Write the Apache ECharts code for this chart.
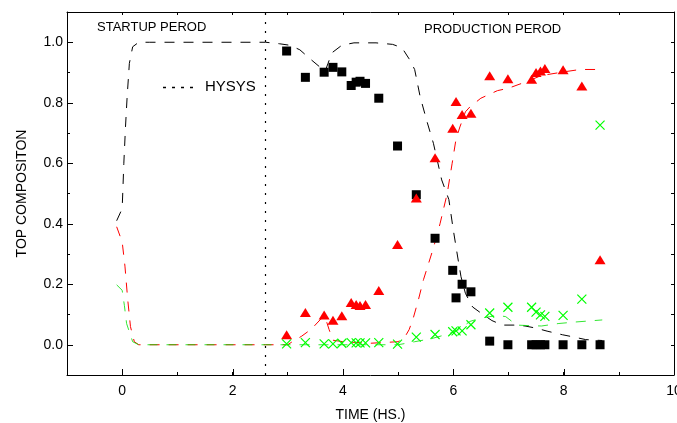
<!DOCTYPE html>
<html><head><meta charset="utf-8">
<script src="https://cdn.jsdelivr.net/npm/echarts@6/dist/echarts.min.js"></script>
<style>html,body{margin:0;padding:0;background:#fff;overflow:hidden}#c{width:677px;height:423px}</style>
</head><body><div id="c"></div>
<script>
// ---- experimental samples (time in hours) ----
const sampleTime   = [2.98, 3.32, 3.66, 3.82, 3.98, 4.15, 4.24, 4.31, 4.41, 4.65, 4.99, 5.33, 5.67, 5.99, 6.05, 6.16, 6.32, 6.66, 6.99, 7.42, 7.50, 7.58, 7.66, 7.99, 8.33, 8.66];
const expSquares   = [0.971, 0.884, 0.901, 0.917, 0.902, 0.857, 0.868, 0.871, 0.864, 0.815, 0.657, 0.496, 0.352, 0.246, 0.155, 0.200, 0.175, 0.012, 0, 0, 0, 0, 0, 0, 0, 0];
const expTriangles = [0.033, 0.107, 0.098, 0.081, 0.096, 0.140, 0.133, 0.130, 0.133, 0.179, 0.331, 0.485, 0.618, 0.716, 0.804, 0.761, 0.765, 0.889, 0.879, 0.878, 0.900, 0.905, 0.913, 0.909, 0.855, 0.281];
const expCrosses   = [0.003, 0.007, 0.003, 0.003, 0.005, 0.007, 0.006, 0.006, 0.006, 0.007, 0.002, 0.025, 0.034, 0.043, 0.046, 0.046, 0.066, 0.105, 0.124, 0.124, 0.108, 0.099, 0.094, 0.097, 0.151, 0.726];

// ---- HYSYS simulation curves ----
const hysysBlackTime = [-0.1, 0, 0.03, 0.06, 0.09, 0.13, 0.19, 0.3, 0.5, 2.6, 2.85, 3.04, 3.22, 3.4, 3.57, 3.68, 3.73, 3.8, 3.98, 4.2, 4.6, 4.9, 5.07, 5.2, 5.3, 5.4, 5.52, 5.64, 5.79, 5.92, 6.0, 6.08, 6.14, 6.22, 6.35, 6.5, 6.7, 6.89, 7.1, 7.3, 7.5, 7.7, 7.98, 8.2, 8.4, 8.7];
const hysysBlack     = [0.41, 0.45, 0.60, 0.72, 0.82, 0.93, 0.985, 1.0, 1.0, 1.0, 0.995, 0.99, 0.975, 0.946, 0.92, 0.905, 0.93, 0.965, 0.99, 0.998, 0.998, 0.993, 0.982, 0.945, 0.91, 0.82, 0.74, 0.666, 0.545, 0.48, 0.38, 0.29, 0.225, 0.17, 0.125, 0.105, 0.08, 0.065, 0.065, 0.062, 0.055, 0.045, 0.033, 0.025, 0.017, 0.014];
const hysysRedTime   = [-0.1, 0, 0.05, 0.1, 0.15, 0.22, 0.3, 2.6, 3.0, 3.1, 3.25, 3.43, 3.6, 3.68, 3.75, 3.82, 4.0, 4.5, 5.0, 5.13, 5.2, 5.27, 5.37, 5.46, 5.64, 5.76, 5.89, 5.98, 6.05, 6.12, 6.22, 6.3, 6.5, 6.8, 7.0, 7.3, 7.6, 8.0, 8.3, 8.6];
const hysysRed       = [0.39, 0.34, 0.26, 0.15, 0.06, 0.01, 0, 0, 0, 0.012, 0.028, 0.052, 0.085, 0.09, 0.05, 0.015, 0.01, 0.005, 0.01, 0.028, 0.05, 0.085, 0.15, 0.215, 0.32, 0.40, 0.50, 0.60, 0.68, 0.72, 0.77, 0.786, 0.815, 0.84, 0.848, 0.868, 0.89, 0.902, 0.91, 0.91];
const hysysGreenTime = [-0.1, 0, 0.04, 0.08, 0.19, 0.3, 2.6, 5.0, 5.3, 5.6, 5.9, 6.1, 6.3, 6.5, 6.8, 6.95, 7.15, 7.4, 7.6, 7.9, 8.2, 8.7];
const hysysGreen     = [0.198, 0.18, 0.13, 0.07, 0.01, 0, 0, 0, 0.01, 0.02, 0.035, 0.05, 0.077, 0.088, 0.097, 0.093, 0.065, 0.063, 0.062, 0.07, 0.075, 0.082];

// ---- axes ----
const periodBoundary = 2.6;
const xMajorTicks = [0, 2, 4, 6, 8, 10];
const yMajorTicks = [0, 0.2, 0.4, 0.6, 0.8, 1.0];

const FONT = "'Liberation Sans', Arial, sans-serif";
const zip = (t, v) => t.map((x, i) => [x, v[i]]);

const chart = echarts.init(document.getElementById('c'), null, {renderer: 'canvas'});
const axisLine = {show: true, onZero: false, lineStyle: {color: '#000', width: 1}};

function majorTick(dir) {
  return function (params, api) {
    const p = api.coord([api.value(0), api.value(1)]);
    if (dir === 'x') {
      const x = Math.round(p[0]) + 0.5;
      return {type: 'line', shape: {x1: x, y1: p[1], x2: x, y2: p[1] - 6}, style: {stroke: '#000', lineWidth: 1}};
    }
    const y = Math.round(p[1]) + 0.5;
    return {type: 'line', shape: {x1: p[0], y1: y, x2: p[0] + 6, y2: y}, style: {stroke: '#000', lineWidth: 1}};
  };
}

chart.setOption({
  animation: false,
  backgroundColor: '#fff',
  grid: {left: 67, right: 3, top: 12, bottom: 48, containLabel: false, outerBoundsMode: 'none'},
  xAxis: [{
    type: 'value', min: -1, max: 10, interval: 1, position: 'bottom',
    axisLine, splitLine: {show: false},
    axisTick: {show: true, inside: true, length: 3, lineStyle: {color: '#000'}},
    axisLabel: {color: '#000', fontFamily: FONT, fontSize: 14, margin: 9,
      formatter: v => (v >= 0 && Math.round(v) % 2 === 0) ? String(Math.round(v)) : ''},
    name: 'TIME (HS.)', nameLocation: 'middle', nameGap: 33,
    nameTextStyle: {color: '#000', fontFamily: FONT, fontSize: 14}
  }, {
    type: 'value', min: -1, max: 10, interval: 1, position: 'top',
    axisLine, splitLine: {show: false},
    axisTick: {show: true, inside: true, length: 3, lineStyle: {color: '#000'}},
    axisLabel: {show: false}
  }],
  yAxis: [{
    type: 'value', min: -0.1, max: 1.1, interval: 0.1, position: 'left',
    axisLine, splitLine: {show: false},
    axisTick: {show: true, inside: true, length: 3, lineStyle: {color: '#000'}},
    axisLabel: {color: '#000', fontFamily: FONT, fontSize: 14, margin: 4,
      formatter: v => { const k = Math.round(v * 10); return (k >= 0 && k <= 10 && k % 2 === 0) ? Math.abs(v).toFixed(1) : ''; }},
    name: 'TOP COMPOSITON', nameLocation: 'middle', nameGap: 38,
    nameTextStyle: {color: '#000', fontFamily: FONT, fontSize: 14}
  }, {
    type: 'value', min: -0.1, max: 1.1, interval: 0.1, position: 'right',
    axisLine, splitLine: {show: false},
    axisTick: {show: true, inside: true, length: 3, lineStyle: {color: '#000'}},
    axisLabel: {show: false}
  }],
  graphic: [
    {type: 'text', left: 97, top: 21, style: {text: 'STARTUP PEROD', fill: '#000', font: '13px ' + FONT}},
    {type: 'text', left: 424, top: 23, style: {text: 'PRODUCTION PEROD', fill: '#000', font: '13px ' + FONT}},
    {type: 'line', shape: {x1: 163, y1: 87.5, x2: 196, y2: 87.5}, style: {stroke: '#000', lineWidth: 1.3, lineDash: [3, 6]}},
    {type: 'text', left: 205, top: 79, style: {text: 'HYSYS', fill: '#000', font: '15px ' + FONT}}
  ],
  series: [
    {type: 'line', name: 'HYSYS red', data: zip(hysysRedTime, hysysRed), showSymbol: false, symbol: 'none',
      lineStyle: {color: '#ff0000', width: 1, type: [10, 9]}, z: 2},
    {type: 'line', name: 'HYSYS green', data: zip(hysysGreenTime, hysysGreen), showSymbol: false, symbol: 'none',
      lineStyle: {color: '#00e000', width: 1, type: [10, 9], opacity: 0.8}, z: 3},
    {type: 'line', name: 'HYSYS black', data: zip(hysysBlackTime, hysysBlack), showSymbol: false, symbol: 'none',
      lineStyle: {color: '#000', width: 1, type: [10, 9]}, z: 2,
      markLine: {silent: true, symbol: 'none', label: {show: false},
        lineStyle: {color: '#000', width: 1.2, type: [2, 7]},
        data: [{xAxis: periodBoundary}]}},
    {type: 'scatter', name: 'squares', data: zip(sampleTime, expSquares), symbol: 'rect', symbolSize: 9,
      itemStyle: {color: '#000', opacity: 1}, z: 4},
    {type: 'scatter', name: 'triangles', data: zip(sampleTime, expTriangles), symbol: 'triangle', symbolSize: [11, 9],
      itemStyle: {color: '#ff0000', opacity: 1}, z: 5},
    {type: 'scatter', name: 'crosses', data: zip(sampleTime, expCrosses), symbol: 'path://M0,0L10,10M10,0L0,10', symbolSize: 9,
      itemStyle: {color: 'rgba(0,0,0,0)', borderColor: '#00ff00', borderWidth: 1.2, opacity: 1}, z: 6},
    {type: 'custom', silent: true, clip: false, z: 7, data: xMajorTicks.map(v => [v, -0.1]), renderItem: majorTick('x')},
    {type: 'custom', silent: true, clip: false, z: 7, data: yMajorTicks.map(v => [-1, v]), renderItem: majorTick('y')}
  ]
});
</script>
</body></html>
